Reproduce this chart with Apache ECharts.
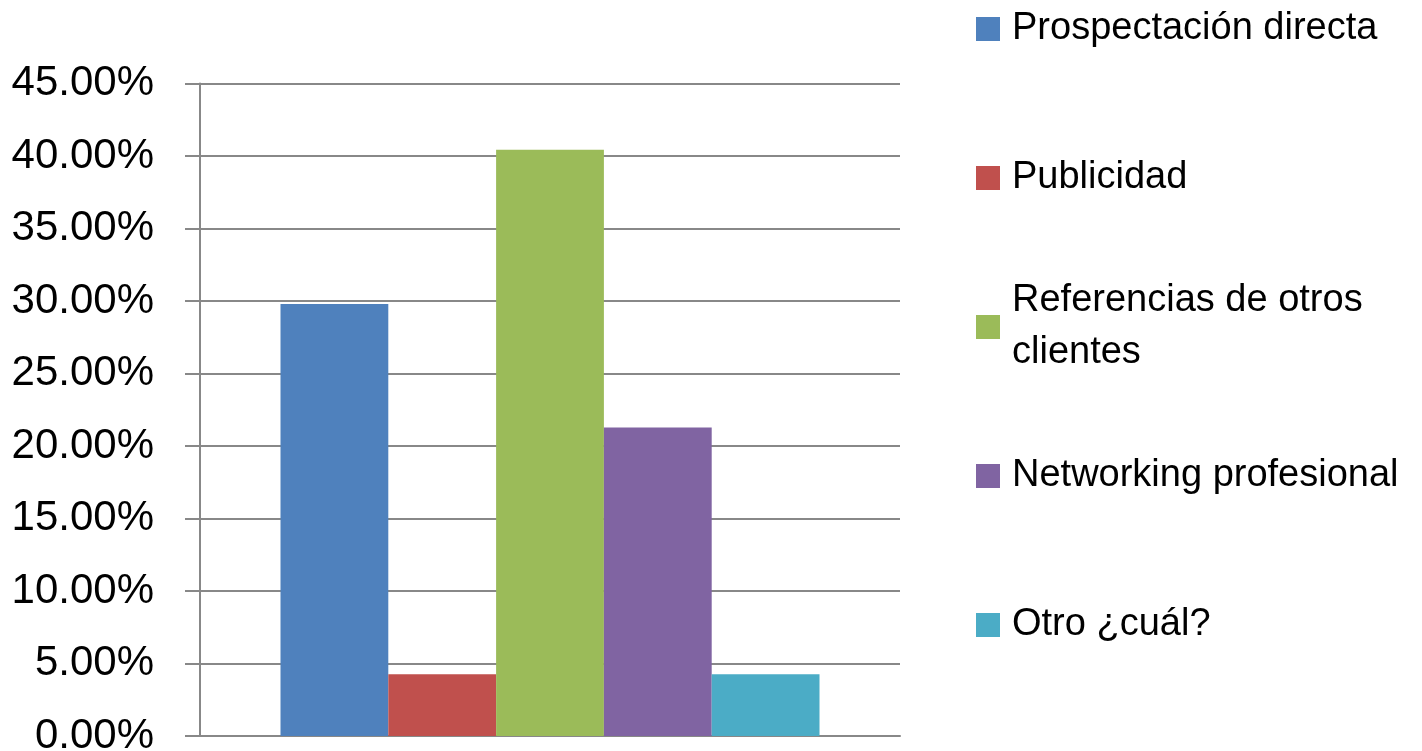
<!DOCTYPE html>
<html>
<head>
<meta charset="utf-8">
<script src="https://cdn.jsdelivr.net/npm/echarts@6/dist/echarts.min.js"></script>
<style>
  html, body { margin: 0; padding: 0; background: #fff; }
  #chart { width: 1422px; height: 751px; }
</style>
</head>
<body>
<div id="chart"></div>
<script>
// one category, five sources (share of answers, %)
const seriesNames = [
  'Prospectación directa',
  'Publicidad',
  'Referencias de otros clientes',
  'Networking profesional',
  'Otro ¿cuál?'
]
const seriesValues = [29.79, 4.26, 40.43, 21.28, 4.26]
const seriesColors = ['#4F81BD', '#C0504D', '#9BBB59', '#8064A2', '#4BACC6']
const yTicks = { min: 0, max: 45, interval: 5 }

const FONT = '"Liberation Sans", Arial, sans-serif'
const GRID_COLOR = '#888888'

// legend rows: icon centre y for each entry
const legendCenters = [29, 178, 327, 476, 625]
const LINE_H = 52

const chart = echarts.init(document.getElementById('chart'))

const legends = seriesNames.map((name, i) => {
  const twoLines = name === 'Referencias de otros clientes'
  return {
    data: [name],
    left: 976,
    top: twoLines ? legendCenters[i] - LINE_H * 1.5 : legendCenters[i] - LINE_H / 2,
    padding: 0,
    orient: 'vertical',
    itemWidth: 24,
    itemHeight: 24,
    icon: 'rect',
    selectedMode: false,
    formatter: (n) => (n === 'Referencias de otros clientes' ? 'Referencias de otros\nclientes' : n),
    textStyle: {
      fontFamily: FONT,
      fontSize: 38,
      color: '#000',
      lineHeight: LINE_H,
      padding: twoLines ? [LINE_H, 0, 0, 7] : [0, 0, 0, 7],
    },
  }
})

chart.setOption({
  animation: false,
  backgroundColor: '#fff',
  legend: legends,
  grid: { left: 200, right: 522, top: 83.5, bottom: 15, outerBoundsMode: 'none', containLabel: false },
  xAxis: {
    type: 'category',
    data: [''],
    axisLine: { lineStyle: { color: GRID_COLOR, width: 2 } },
    axisTick: { show: false },
    axisLabel: { show: false },
  },
  yAxis: {
    type: 'value',
    min: yTicks.min,
    max: yTicks.max,
    interval: yTicks.interval,
    axisLine: { show: true, lineStyle: { color: GRID_COLOR, width: 2 } },
    axisTick: { show: true, length: 15, lineStyle: { color: GRID_COLOR, width: 2 } },
    axisLabel: {
      margin: 46,
      fontFamily: FONT,
      fontSize: 42,
      color: '#000',
      formatter: (v) => v.toFixed(2) + '%',
    },
    splitLine: { lineStyle: { color: GRID_COLOR, width: 2 } },
  },
  series: seriesNames.map((name, i) => ({
    name,
    type: 'bar',
    data: [seriesValues[i]],
    barGap: '0%',
    barCategoryGap: '23%',
    itemStyle: { color: seriesColors[i] },
  })),
})
</script>
</body>
</html>
